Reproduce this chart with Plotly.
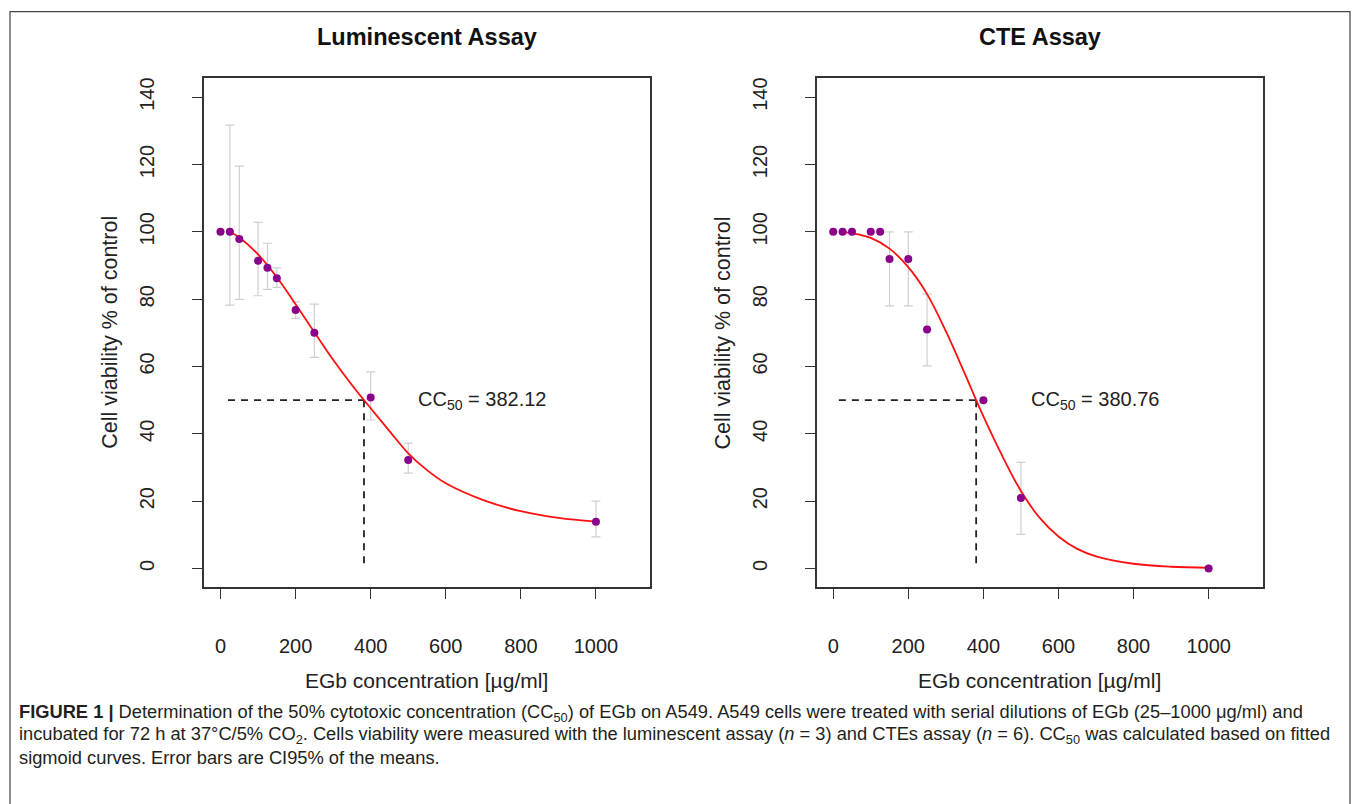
import plotly.graph_objects as go

# ---------------- data ----------------
conc_lum = [0, 25, 50, 100, 125, 150, 200, 250, 400, 500, 1000]
via_lum = [100, 100, 97.9, 91.4, 89.3, 86.2, 76.8, 70.0, 50.8, 32.2, 13.9]
err_hi_lum = [None, 131.7, 119.5, 102.8, 96.6, 89.3, 79.2, 78.5, 58.4, 37.2, 20.0]
err_lo_lum = [None, 78.2, 79.9, 81.0, 82.9, 83.5, 74.3, 62.7, 44.1, 28.3, 9.4]

conc_cte = [0, 25, 50, 100, 125, 150, 200, 250, 400, 500, 1000]
via_cte = [100, 100, 100, 100, 100, 91.9, 91.9, 71.0, 50.0, 20.9, 0.0]
err_hi_cte = [None, None, None, None, None, 100, 100, 81.5, None, 31.5, None]
err_lo_cte = [None, None, None, None, None, 78.0, 78.0, 60.2, None, 10.1, None]

# fitted sigmoid curves
fit_x_lum = [25, 50, 100, 150, 200, 250, 300, 350, 382.12, 400, 450, 500, 550, 600, 700, 800, 900, 1000]
fit_y_lum = [100, 98.3, 93.3, 86.5, 78.5, 70.2, 62.0, 54.5, 50.0, 47.6, 40.8, 34.2, 29.2, 25.3, 20.3, 17.0, 15.0, 13.9]
fit_x_cte = [25, 50, 100, 150, 200, 250, 300, 350, 380.76, 400, 450, 500, 550, 600, 650, 700, 800, 900, 1000]
fit_y_cte = [100, 99.6, 98.2, 95.0, 89.5, 81.5, 70.5, 58.0, 50.0, 45.2, 33.5, 23.0, 15.0, 9.5, 5.8, 3.6, 1.4, 0.5, 0.2]

cc50_lum = 382.12
cc50_cte = 380.76
cc50_level = 50
dash_start_lum = 20
dash_start_cte = 15
label_x = 522

titles = ["Luminescent Assay", "CTE Assay"]
xtitle = "EGb concentration [µg/ml]"
ytitle = "Cell viability % of control"
xticks = [0, 200, 400, 600, 800, 1000]
yticks = [0, 20, 40, 60, 80, 100, 120, 140]

caption_lines = [
    "<b>FIGURE 1 |</b> Determination of the 50% cytotoxic concentration (CC<sub>50</sub>) of EGb on A549. A549 cells were treated with serial dilutions of EGb (25–1000 μg/ml) and",
    "incubated for 72 h at 37°C/5% CO<sub>2</sub>. Cells viability were measured with the luminescent assay (<i>n</i> = 3) and CTEs assay (<i>n</i> = 6). CC<sub>50</sub> was calculated based on fitted",
    "sigmoid curves. Error bars are CI95% of the means.",
]

# ---------------- layout helpers ----------------
W, H = 1359, 804
def px(x):
    return x / W
def py(y):
    return 1 - y / H

FONT = "Liberation Sans, Arial, sans-serif"
TXT = "#222222"
PURPLE = "#8B008B"
ERRC = "#CFCFCF"

fig = go.Figure()

def add_panel(xs, ys, hi, lo, fx, fy, cc50, dstart, xa, ya):
    plus = [None if h is None else h - y for h, y in zip(hi, ys)]
    minus = [None if l is None else y - l for l, y in zip(lo, ys)]
    fig.add_trace(go.Scatter(
        x=xs, y=ys, mode="markers", xaxis=xa, yaxis=ya,
        marker=dict(color="rgba(0,0,0,0)", size=1),
        error_y=dict(type="data", symmetric=False, array=plus, arrayminus=minus,
                     color=ERRC, thickness=1.2, width=4.5),
        showlegend=False, hoverinfo="skip"))
    fig.add_trace(go.Scatter(
        x=[dstart, cc50], y=[cc50_level, cc50_level], mode="lines", xaxis=xa, yaxis=ya,
        line=dict(color="#222222", width=1.8, dash="7px,6px"), showlegend=False))
    fig.add_trace(go.Scatter(
        x=[cc50, cc50], y=[cc50_level, 0], mode="lines", xaxis=xa, yaxis=ya,
        line=dict(color="#222222", width=1.8, dash="7px,6px"), showlegend=False))
    fig.add_trace(go.Scatter(
        x=fx, y=fy, mode="lines", xaxis=xa, yaxis=ya, line_shape="spline",
        line=dict(color="#FF1010", width=1.8), showlegend=False))
    fig.add_trace(go.Scatter(
        x=xs, y=ys, mode="markers", xaxis=xa, yaxis=ya,
        marker=dict(color=PURPLE, size=8, line=dict(width=0)), showlegend=False))

add_panel(conc_lum, via_lum, err_hi_lum, err_lo_lum, fit_x_lum, fit_y_lum, cc50_lum, dash_start_lum, "x", "y")
add_panel(conc_cte, via_cte, err_hi_cte, err_lo_cte, fit_x_cte, fit_y_cte, cc50_cte, dash_start_cte, "x2", "y2")

axis_common = dict(showgrid=False, zeroline=False, showline=True, mirror=True,
                   linecolor="#333333", linewidth=1.6, ticks="outside", ticklen=10,
                   tickwidth=1.4, tickcolor="#333333",
                   tickfont=dict(family=FONT, size=20, color=TXT))
xax = dict(axis_common, range=[-44, 1144], tickvals=xticks, ticklabelstandoff=30)
yax = dict(axis_common, range=[-5.6, 145.6], tickvals=yticks, tickangle=-90, ticklabelstandoff=30)

fig.update_layout(
    width=W, height=H, margin=dict(l=0, r=0, t=0, b=0),
    paper_bgcolor="white", plot_bgcolor="white",
    xaxis=dict(xax, domain=[px(204), px(650)], anchor="y"),
    yaxis=dict(yax, domain=[py(587.3), py(78.3)], anchor="x"),
    xaxis2=dict(xax, domain=[px(816.7), px(1262.7)], anchor="y2"),
    yaxis2=dict(yax, domain=[py(587.3), py(78.3)], anchor="x2"),
)

ann = []
for cx, t in zip([427, 1039.7], titles):
    ann.append(dict(x=px(cx), y=py(37), xref="paper", yref="paper", text="<b>%s</b>" % t,
                    showarrow=False, xanchor="center", yanchor="middle",
                    font=dict(family=FONT, size=23.5, color="#111111")))
for cx in [427, 1039.7]:
    ann.append(dict(x=px(cx), y=py(680), xref="paper", yref="paper", text=xtitle,
                    showarrow=False, xanchor="center", yanchor="middle",
                    font=dict(family=FONT, size=21, color=TXT)))
for cx in [110, 722.7]:
    ann.append(dict(x=px(cx), y=py(332.8), xref="paper", yref="paper", text=ytitle,
                    showarrow=False, xanchor="center", yanchor="middle", textangle=-90,
                    font=dict(family=FONT, size=21.5, color=TXT)))
for xa, ya, v in [("x", "y", cc50_lum), ("x2", "y2", cc50_cte)]:
    ann.append(dict(x=label_x, y=cc50_level, xref=xa, yref=ya,
                    text="CC<sub>50</sub> = %.2f" % v, showarrow=False,
                    xanchor="left", yanchor="middle",
                    font=dict(family=FONT, size=20, color=TXT)))
for i, (line, cy) in enumerate(zip(caption_lines, [713, 735, 757])):
    ann.append(dict(x=px(17), y=py(cy), xref="paper", yref="paper", text=line,
                    showarrow=False, xanchor="left", yanchor="middle",
                    font=dict(family=FONT, size=18.3, color="#231F20")))
fig.update_layout(annotations=ann)

fig.add_shape(type="rect", xref="paper", yref="paper",
              x0=px(10), x1=px(1350), y0=py(830), y1=py(11.7),
              line=dict(color="#444444", width=1.2), fillcolor="rgba(0,0,0,0)")

fig.write_html("out.html")
